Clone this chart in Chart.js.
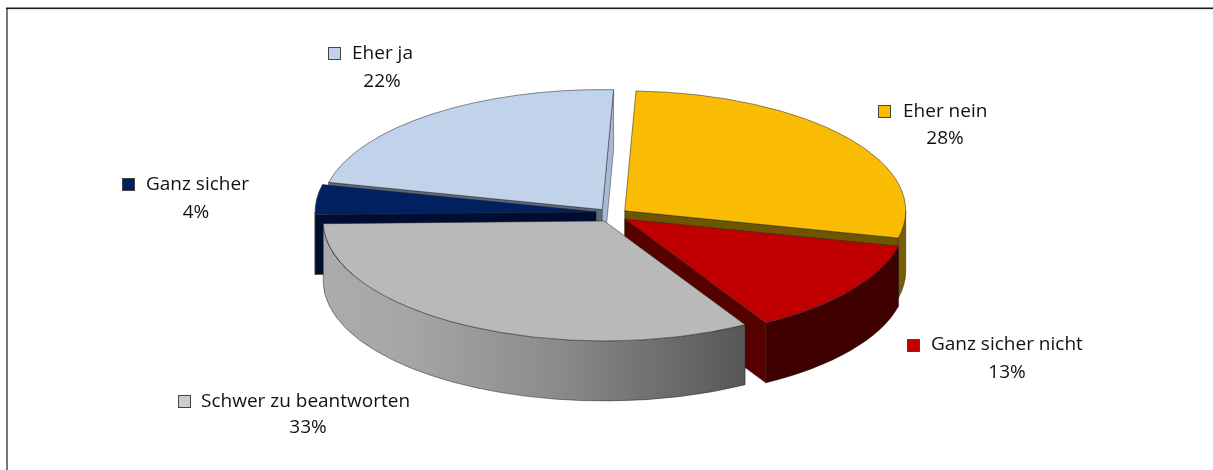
<!DOCTYPE html>
<html>
<head>
<meta charset="utf-8">
<style>html,body{margin:0;padding:0;background:#fff;overflow:hidden}canvas{display:block}</style>
<script src="https://cdn.jsdelivr.net/npm/chart.js@4"></script>
</head>
<body>
<canvas id="c" width="1213" height="470"></canvas>
<script>
const categories = ['Ganz sicher', 'Eher ja', 'Eher nein', 'Ganz sicher nicht', 'Schwer zu beantworten'];
const shares = [4, 22, 28, 13, 33];
const topColors = ['#002060', '#c0d3ea', '#fabc02', '#c00000', '#b9b9b9'];
const startWallColors = ['#000d33', '#5d6a7e', '#6e5500', '#5a0000', '#777777'];
const endWallColors = ['#000d33', '#5d6a7e', '#6e5500', '#560000', '#777777'];
const endWallLight = '#a9b9d3';
const outerWallColors = ['#001440', '#8a9ab5', '#7a5f00', '#3f0000', null];
const legendColors = ['#002060', '#c0d3ea', '#fabc02', '#c00000', '#cccccc'];
const paintOrder = [1, 0, 2, 3, 4];

const tilt = 0.427, depth = 60, explode = 16;
const sliceLift = [-2.5, 0, 0, 0, 0];
const FONT = '"Open Sans"';
const FONT_SIZE = 19;
const labelLayout = [
  {sx: 122, sy: 178, tx: 146, px: 196, ty: 185, py: 213},
  {sx: 328, sy: 47, tx: 352, px: 382, ty: 54, py: 82},
  {sx: 878, sy: 105, tx: 903, px: 945, ty: 112, py: 139},
  {sx: 907, sy: 339, tx: 931, px: 1007, ty: 345, py: 373},
  {sx: 178, sy: 395, tx: 201, px: 308, ty: 402, py: 428}
];

function geom(arc, i) {
  const mid = (arc.startAngle + arc.endAngle) / 2;
  const ax = arc.x + explode * Math.cos(mid);
  const ay = arc.y + explode * tilt * Math.sin(mid) + sliceLift[i];
  const r = arc.outerRadius;
  return {ax, ay, r, pt: a => [ax + r * Math.cos(a), ay + tilt * r * Math.sin(a)]};
}
function radialWall(ctx, g, a, color) {
  const p = g.pt(a);
  ctx.beginPath();
  ctx.moveTo(g.ax, g.ay);
  ctx.lineTo(p[0], p[1]);
  ctx.lineTo(p[0], p[1] + depth);
  ctx.lineTo(g.ax, g.ay + depth);
  ctx.closePath();
  ctx.fillStyle = color;
  ctx.fill();
  ctx.strokeStyle = 'rgba(30,30,30,.55)';
  ctx.lineWidth = 0.8;
  ctx.stroke();
}
function outerWall(ctx, g, a0, a1, fill) {
  const TAU = Math.PI * 2;
  for (let n = -1; n <= 1; n++) {
    const lo = Math.max(a0, n * TAU), hi = Math.min(a1, n * TAU + Math.PI);
    if (hi <= lo) continue;
    ctx.beginPath();
    ctx.ellipse(g.ax, g.ay, g.r, g.r * tilt, 0, lo, hi);
    ctx.ellipse(g.ax, g.ay + depth, g.r, g.r * tilt, 0, hi, lo, true);
    ctx.closePath();
    ctx.fillStyle = fill;
    ctx.fill();
    ctx.strokeStyle = 'rgba(30,30,30,.6)';
    ctx.lineWidth = 0.8;
    ctx.stroke();
  }
}
const pie3d = {
  id: 'pie3d',
  beforeDraw(chart) {
    const ctx = chart.ctx;
    ctx.save();
    ctx.fillStyle = '#fff';
    ctx.fillRect(0, 0, chart.width, chart.height);
    ctx.fillStyle = '#777';
    ctx.fillRect(6, 8, 2, chart.height - 8);
    ctx.fillStyle = '#1a1a1a';
    ctx.fillRect(6, 7.5, chart.width - 6, 1.6);
    ctx.restore();
  },
  beforeDatasetsDraw(chart) {
    const ctx = chart.ctx;
    const arcs = chart.getDatasetMeta(0).data;
    const grey = ctx.createLinearGradient(322, 0, 748, 0);
    grey.addColorStop(0, '#acacac');
    grey.addColorStop(0.2, '#a6a6a6');
    grey.addColorStop(0.55, '#8b8b8b');
    grey.addColorStop(1, '#565656');
    paintOrder.forEach(i => {
      const arc = arcs[i], g = geom(arc, i);
      if (-Math.cos(arc.startAngle) > 0) radialWall(ctx, g, arc.startAngle, startWallColors[i]);
      if (Math.cos(arc.endAngle) > 0) radialWall(ctx, g, arc.endAngle, i === 1 ? endWallLight : endWallColors[i]);
      outerWall(ctx, g, arc.startAngle, arc.endAngle, outerWallColors[i] || grey);
      ctx.save();
      ctx.translate(g.ax, g.ay);
      ctx.scale(1, tilt);
      ctx.translate(-arc.x, -arc.y);
      arc.draw(ctx);
      ctx.restore();
    });
    return false;
  },
  afterDraw(chart) {
    const ctx = chart.ctx;
    ctx.save();
    ctx.font = FONT_SIZE + 'px ' + FONT;
    ctx.textBaseline = 'middle';
    categories.forEach((name, i) => {
      const l = labelLayout[i];
      ctx.fillStyle = legendColors[i];
      ctx.fillRect(l.sx + .5, l.sy + .5, 12, 12);
      ctx.strokeStyle = '#444';
      ctx.lineWidth = 1;
      ctx.strokeRect(l.sx + .5, l.sy + .5, 12, 12);
      ctx.fillStyle = '#111';
      ctx.textAlign = 'left';
      ctx.fillText(name, l.tx, l.ty);
      ctx.textAlign = 'center';
      ctx.fillText(shares[i] + '%', l.px, l.py);
    });
    ctx.restore();
  }
};
new Chart(document.getElementById('c'), {
  type: 'pie',
  data: {
    labels: categories,
    datasets: [{
      data: shares,
      backgroundColor: topColors,
      borderColor: 'rgba(40,40,40,.75)',
      borderWidth: 1,
      radius: 281
    }]
  },
  options: {
    responsive: false,
    animation: false,
    rotation: 268.7,
    layout: {padding: {left: 11, bottom: 40}},
    plugins: {legend: {display: false}, tooltip: {enabled: false}}
  },
  plugins: [pie3d]
});
</script>
</body>
</html>
